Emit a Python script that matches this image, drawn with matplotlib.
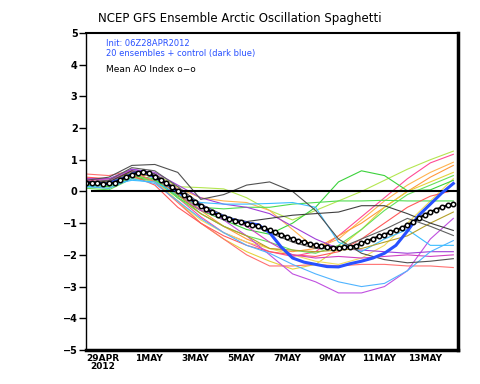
import numpy as np
import matplotlib
matplotlib.use('Agg')
from matplotlib import pyplot as plt

# time axis: days since 06Z 28APR2012
days = np.arange(0, 17)            # daily, ensemble members
half_days = np.arange(0, 16.01, 0.5)   # 12-hourly, control
quarter_days = np.arange(0, 16.01, 0.25)  # 6-hourly, mean

# 20 ensemble members (daily values)
members = {
    'ygreen1': [0.25, 0.3, 0.6, 0.55, 0.15, 0.12, 0.08, -0.2, -0.6, -0.9, -0.6, -0.3, 0.0, 0.35, 0.7, 1.0, 1.27],
    'pink1':   [0.35, 0.3, 0.6, 0.45, -0.2, -0.8, -1.3, -1.6, -1.9, -2.05, -1.9, -1.4, -0.8, -0.2, 0.4, 0.9, 1.17],
    'orange1': [0.3, 0.3, 0.55, 0.5, 0.1, -0.2, -0.3, -0.35, -0.6, -1.2, -1.8, -1.5, -0.9, -0.3, 0.2, 0.6, 0.92],
    'orange2': [0.3, 0.3, 0.6, 0.5, 0.0, -0.6, -1.1, -1.5, -1.8, -1.9, -1.8, -1.4, -1.0, -0.5, 0.0, 0.45, 0.82],
    'yellow1': [0.25, 0.2, 0.5, 0.35, -0.3, -1.0, -1.5, -1.9, -2.2, -2.45, -2.3, -1.8, -1.2, -0.5, 0.0, 0.3, 0.6],
    'yellow2': [0.2, 0.2, 0.45, 0.3, -0.3, -0.9, -1.3, -1.6, -1.8, -2.0, -2.2, -2.3, -2.1, -1.7, -1.0, -0.3, 0.4],
    'green1':  [0.2, 0.15, 0.5, 0.4, -0.2, -0.6, -0.9, -1.2, -1.35, -1.0, -0.5, 0.3, 0.65, 0.5, 0.02, 0.05, 0.35],
    'green2':  [0.15, 0.1, 0.45, 0.35, -0.15, -0.5, -0.55, -0.5, -0.5, -0.4, -0.35, -0.3, -0.3, -0.28, -0.3, -0.3, -0.3],
    'green3':  [0.1, 0.05, 0.4, 0.35, -0.2, -0.7, -1.1, -1.4, -1.6, -1.85, -1.95, -1.7, -1.2, -0.6, -0.1, 0.2, 0.5],
    'salmon1': [0.55, 0.5, 0.65, 0.3, -0.35, -1.0, -1.5, -2.0, -2.35, -2.35, -2.3, -2.35, -2.3, -2.3, -2.35, -2.35, -2.4],
    'red2':    [0.45, 0.4, 0.5, 0.2, -0.5, -1.0, -1.4, -1.7, -1.9, -2.0, -2.05, -1.9, -1.5, -1.0, -0.5, -0.15, 0.03],
    'purple1': [0.4, 0.35, 0.7, 0.55, 0.05, -0.5, -0.9, -1.4, -2.0, -2.6, -2.85, -3.2, -3.2, -3.0, -2.5, -1.5, -0.85],
    'purple2': [0.4, 0.4, 0.7, 0.6, 0.2, -0.2, -0.4, -0.5, -0.7, -1.1, -1.5, -1.8, -1.85, -1.9, -1.95, -1.9, -1.9],
    'magenta': [0.4, 0.35, 0.65, 0.45, -0.1, -0.6, -0.8, -1.1, -1.6, -2.0, -2.1, -2.05, -2.1, -2.05, -2.0, -2.05, -2.0],
    'lblue1':  [0.15, 0.1, 0.4, 0.25, -0.3, -0.85, -1.3, -1.7, -1.95, -2.3, -2.6, -2.85, -3.0, -2.9, -2.5, -1.9, -1.55],
    'lblue2':  [0.15, 0.2, 0.35, 0.3, -0.1, -0.35, -0.4, -0.4, -0.38, -0.35, -0.5, -1.6, -1.9, -1.5, -1.2, -1.7, -1.7],
    'olive':   [0.3, 0.3, 0.6, 0.45, -0.1, -0.7, -1.1, -1.4, -1.8, -1.85, -1.9, -1.85, -1.8, -1.6, -1.4, -1.0, -0.65],
    'gray1':   [0.35, 0.45, 0.82, 0.85, 0.6, -0.25, -0.1, 0.2, 0.3, 0.0, -0.6, -1.5, -1.95, -2.15, -2.25, -2.2, -2.12],
    'gray2':   [0.3, 0.35, 0.75, 0.65, 0.15, -0.4, -0.75, -1.0, -1.3, -1.6, -1.8, -1.8, -1.5, -1.2, -0.85, -1.1, -1.39],
    'gray3':   [0.3, 0.3, 0.65, 0.55, 0.0, -0.5, -0.8, -0.95, -0.85, -0.75, -0.7, -0.65, -0.45, -0.45, -0.7, -1.0, -1.23],
}
member_colors = {
    'ygreen1': '#b4e650', 'pink1': '#ff4b96', 'orange1': '#ffb450', 'orange2': '#ff9a3c',
    'yellow1': '#e6d23c', 'yellow2': '#f0dc5a', 'green1': '#3cd23c', 'green2': '#50dc50',
    'green3': '#64e05a', 'salmon1': '#ff7070', 'red2': '#ff5a5a', 'purple1': '#c050e0',
    'purple2': '#a040d8', 'magenta': '#d040c0', 'lblue1': '#50b4ff', 'lblue2': '#3cbeff',
    'olive': '#b4a028', 'gray1': '#505050', 'gray2': '#606060', 'gray3': '#404040',
}

control = [0.28, 0.25, 0.25, 0.38, 0.55, 0.62, 0.45, 0.25, 0.0, -0.22, -0.45, -0.65, -0.8, -0.92,
           -1.0, -1.05, -1.3, -1.75, -2.1, -2.23, -2.3, -2.37, -2.38, -2.28, -2.2, -2.1, -1.95,
           -1.7, -1.25, -0.75, -0.4, -0.05, 0.25]

mean_ao = [0.28, 0.28, 0.26, 0.24, 0.25, 0.28, 0.36, 0.46, 0.53, 0.59, 0.62, 0.58, 0.45, 0.36,
           0.26, 0.14, 0.01, -0.10, -0.22, -0.33, -0.45, -0.56, -0.66, -0.74, -0.81, -0.87,
           -0.93, -0.97, -1.02, -1.06, -1.10, -1.16, -1.22, -1.28, -1.36, -1.44, -1.50, -1.55,
           -1.60, -1.65, -1.69, -1.72, -1.75, -1.77, -1.77, -1.76, -1.74, -1.71, -1.63, -1.56,
           -1.49, -1.42, -1.36, -1.29, -1.23, -1.15, -1.06, -0.96, -0.84, -0.74, -0.65, -0.57,
           -0.50, -0.44, -0.40]

tick_pos = [0.75, 2.75, 4.75, 6.75, 8.75, 10.75, 12.75, 14.75]
tick_labels = ['29APR\n2012', '1MAY', '3MAY', '5MAY', '7MAY', '9MAY', '11MAY', '13MAY']

fig = plt.figure(figsize=(4.8, 3.84), dpi=100)
ax = fig.add_axes([0.179, 0.0885, 0.775, 0.826])

for name in members:
    ax.plot(days, members[name], color=member_colors[name], lw=0.8)

ax.plot([0.25, 16.2], [0, 0], color='black', lw=1.5)
ax.plot(half_days, control, color='#2850ff', lw=2.2)
ax.plot(quarter_days, mean_ao, color='black', lw=1.6, marker='o', ms=3.2,
        mfc='white', mec='black', mew=1.1)

ax.set_xlim(0, 16.2)
ax.set_ylim(-5, 5)
ax.set_yticks(range(-5, 6))
ax.set_yticklabels([str(v).replace('-', '\u2212') for v in range(-5, 6)],
                   fontsize=7, fontweight='bold')
ax.set_xticks(tick_pos)
ax.set_xticklabels(tick_labels, fontsize=6.5, fontweight='bold', linespacing=0.9)
ax.tick_params(axis='x', length=0, pad=3)
ax.tick_params(axis='y', length=5, width=1, pad=1)

ax.spines['left'].set_linewidth(1)
ax.spines['top'].set_linewidth(1.5)
ax.spines['right'].set_linewidth(2.5)
ax.spines['bottom'].set_linewidth(2.5)

fig.text(0.5, 0.953, 'NCEP GFS Ensemble Arctic Oscillation Spaghetti', ha='center',
         va='center', fontsize=8.5)
ax.text(0.055, 0.965, 'Init: 06Z28APR2012', transform=ax.transAxes, color='#2850ff',
        fontsize=6, va='center')
ax.text(0.055, 0.935, '20 ensembles + control (dark blue)', transform=ax.transAxes,
        color='#2850ff', fontsize=6, va='center')
ax.text(0.055, 0.885, 'Mean AO Index o\u2212o', transform=ax.transAxes, color='black',
        fontsize=6.5, va='center')

fig.savefig('out.png', dpi=100)
